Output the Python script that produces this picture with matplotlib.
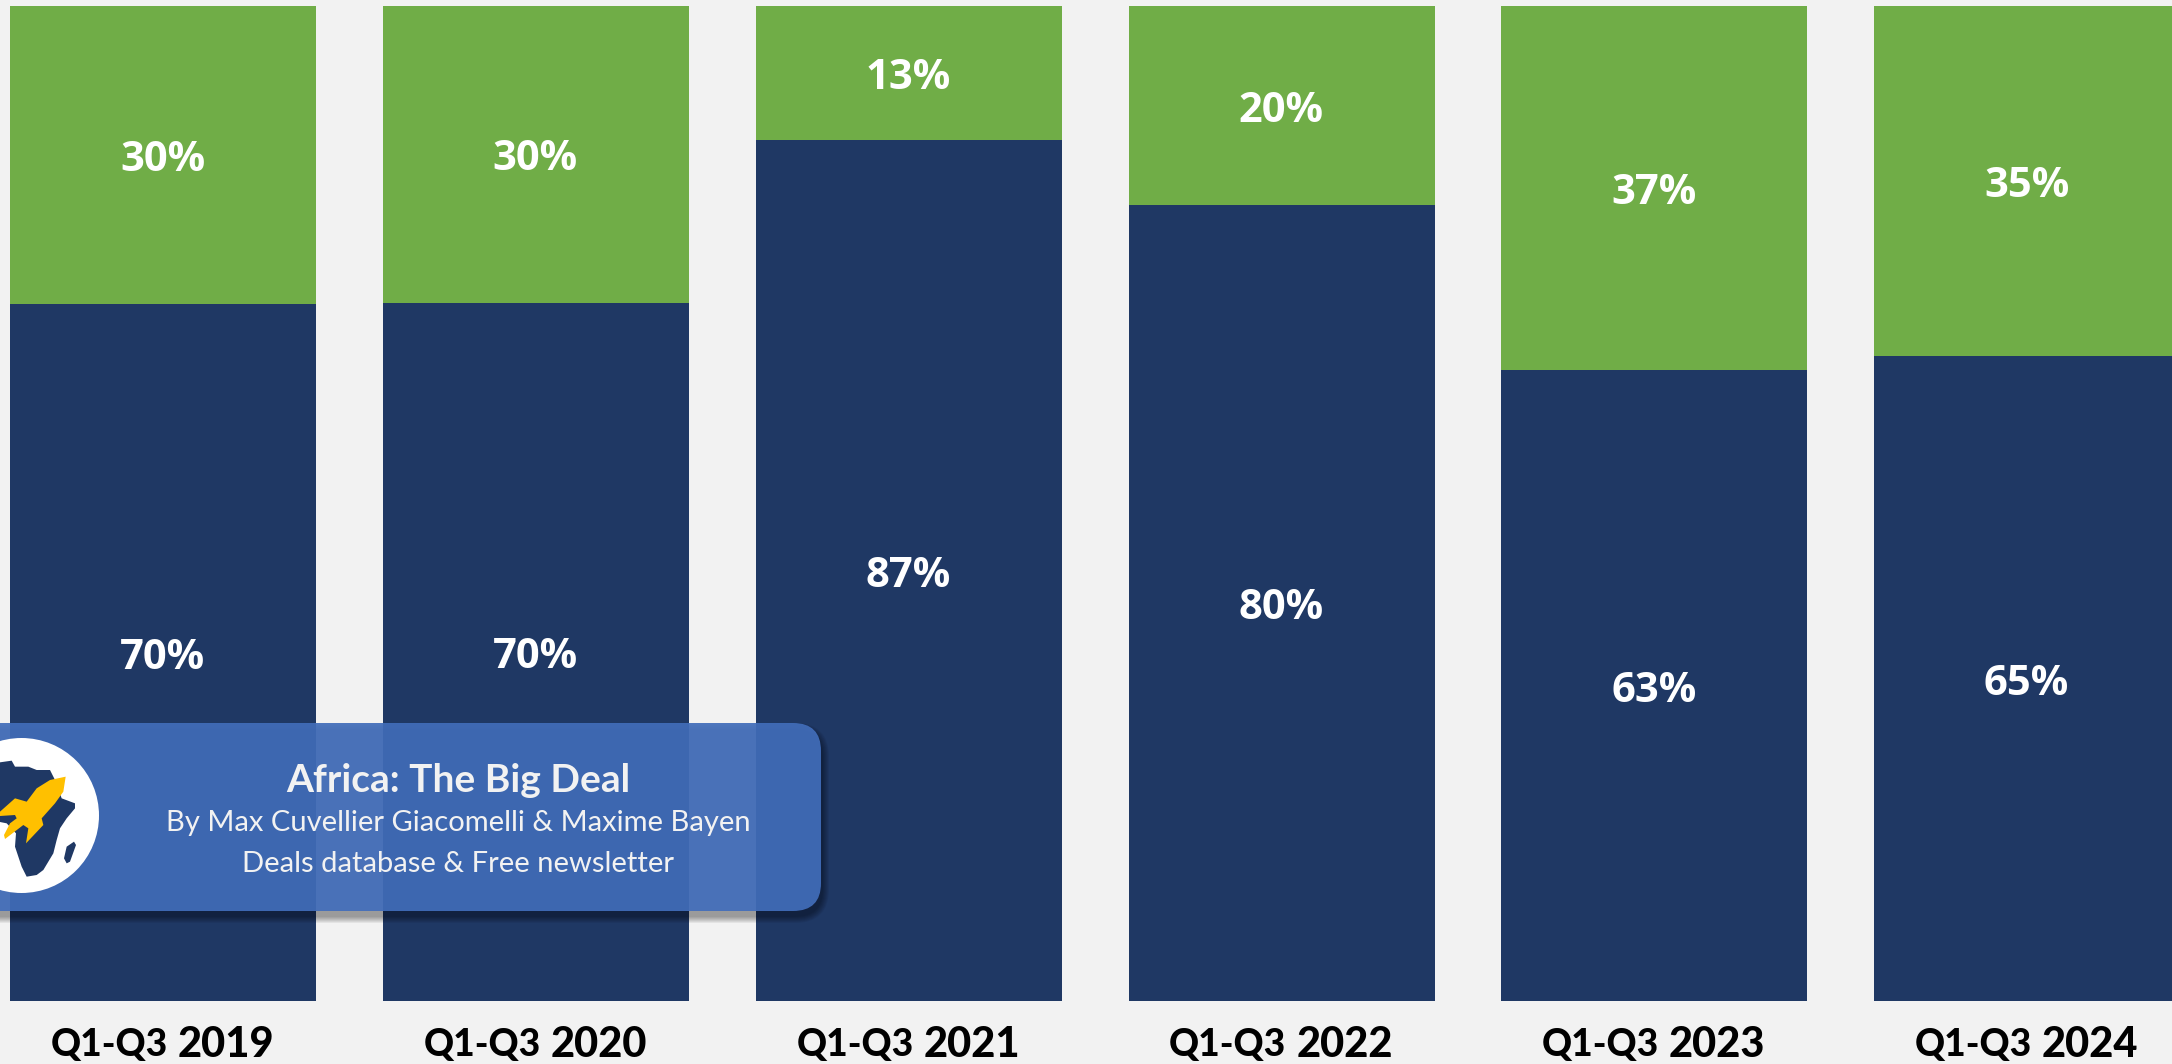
import matplotlib
matplotlib.use("Agg")
import matplotlib.pyplot as plt
from matplotlib.patches import FancyBboxPatch, Circle, Polygon
from matplotlib.transforms import Affine2D

categories = ["2019", "2020", "2021", "2022", "2023", "2024"]
period = "Q1-Q3"
green_values = [30.0, 29.8, 13.5, 20.0, 36.6, 35.2]
navy_values = [70.0, 70.2, 86.5, 80.0, 63.4, 64.8]
green_labels = ["30%", "30%", "13%", "20%", "37%", "35%"]
navy_labels = ["70%", "70%", "87%", "80%", "63%", "65%"]

W, H = 2172, 1064
BG = "#F2F2F2"; NAVY = "#1F3864"; GREEN = "#70AD47"

fig = plt.figure(figsize=(W / 100, H / 100), dpi=100, facecolor=BG)
L, R, T, B = 0, W, 6, 1001
ax = fig.add_axes([L / W, 1 - B / H, (R - L) / W, (B - T) / H], facecolor=BG)
step = 372.8
c0 = 163.2
ax.set_xlim(-c0 / step, (W - c0) / step)
ax.set_ylim(0, 100)
xs = list(range(len(categories)))
bw = 306 / step
ax.bar(xs, navy_values, width=bw, color=NAVY, zorder=2)
ax.bar(xs, green_values, width=bw, bottom=navy_values, color=GREEN, zorder=2)
for s in ax.spines.values():
    s.set_visible(False)
ax.set_yticks([])
ax.set_xticks(xs)
ax.set_xticklabels([])
ax.tick_params(length=0)

for x, n, g, nl, gl in zip(xs, navy_values, green_values, navy_labels, green_labels):
    ax.annotate(nl, (x, n / 2), xytext=(-0.5, -4), textcoords="offset points", color="white",
                ha="center", va="center", family="Open Sans", weight="bold", fontsize=30, zorder=3)
    ax.annotate(gl, (x, n + g / 2), xytext=(-0.5, -4), textcoords="offset points", color="white",
                ha="center", va="center", family="Open Sans", weight="bold", fontsize=30, zorder=3)
    ax.annotate(period, (x, 0), xytext=(3.5, -32), textcoords="offset points", ha="right",
                va="center", family="Lato", weight="black", fontsize=26.7, color="black")
    ax.annotate(categories[x], (x, 0), xytext=(10.5, -31.5), textcoords="offset points", ha="left",
                va="center", family="Lato", weight="black", fontsize=30, color="black")

# banner and logo, laid out in figure pixels (y downward)
px = Affine2D().scale(1 / W, -1 / H).translate(0, 1) + fig.transFigure
def banner(dx, dy, color, alpha, z, grow=0):
    p = FancyBboxPatch((-60 + dx - grow, 723 + dy - grow), 881 + 2 * grow, 188 + 2 * grow,
                       boxstyle="round,pad=0,rounding_size=%g" % (28 + grow),
                       transform=px, facecolor=color, edgecolor="none", alpha=alpha, zorder=z)
    fig.add_artist(p)
for g in [6, 5, 4, 3, 2, 1, 0]:
    banner(2, 6, "black", 0.06, 5, g)
banner(0, 0, "#426EBB", 0.92, 6)

fig.add_artist(Circle((21.5, 815.5), 77.5, transform=px, facecolor="white", edgecolor="none", zorder=7))
def logo(points):
    return [(x / 3, 730 + y / 3) for x, y in points]
africa = [(-30, 97), (0, 97), (35, 92), (45, 110), (85, 110), (110, 120), (150, 120), (165, 150),
          (185, 205), (225, 220), (225, 235), (200, 265), (180, 295), (170, 330), (160, 370),
          (130, 420), (110, 435), (80, 440), (65, 410), (45, 350), (48, 310), (20, 280), (-30, 270)]
madagascar = [(222, 335), (228, 345), (210, 395), (200, 400), (192, 385), (200, 350)]
rocket = [(197, 140), (190, 185), (165, 220), (125, 265), (130, 285), (78, 340), (85, 295), (70, 285),
          (15, 327), (12, 315), (30, 280), (50, 265), (45, 255), (0, 258), (0, 245), (45, 205),
          (80, 215), (110, 175), (150, 150)]
for pts, col, z in [(africa, NAVY, 8), (madagascar, NAVY, 8), (rocket, "#FFC000", 9)]:
    fig.add_artist(Polygon(logo(pts), closed=True, transform=px, facecolor=col, edgecolor="none", zorder=z))

banner_lines = [("Africa: The Big Deal", 780.5, 28, "bold"),
                ("By Max Cuvellier Giacomelli & Maxime Bayen", 822.5, 21, "normal"),
                ("Deals database & Free newsletter", 863.5, 21, "normal")]
for s, y, fs, w in banner_lines:
    fig.text(458 / W, 1 - y / H, s, color="#F2F2F2", ha="center", va="center", family="Lato",
             fontsize=fs, weight=w, zorder=10)

fig.savefig("out.png", dpi=100, facecolor=BG)
